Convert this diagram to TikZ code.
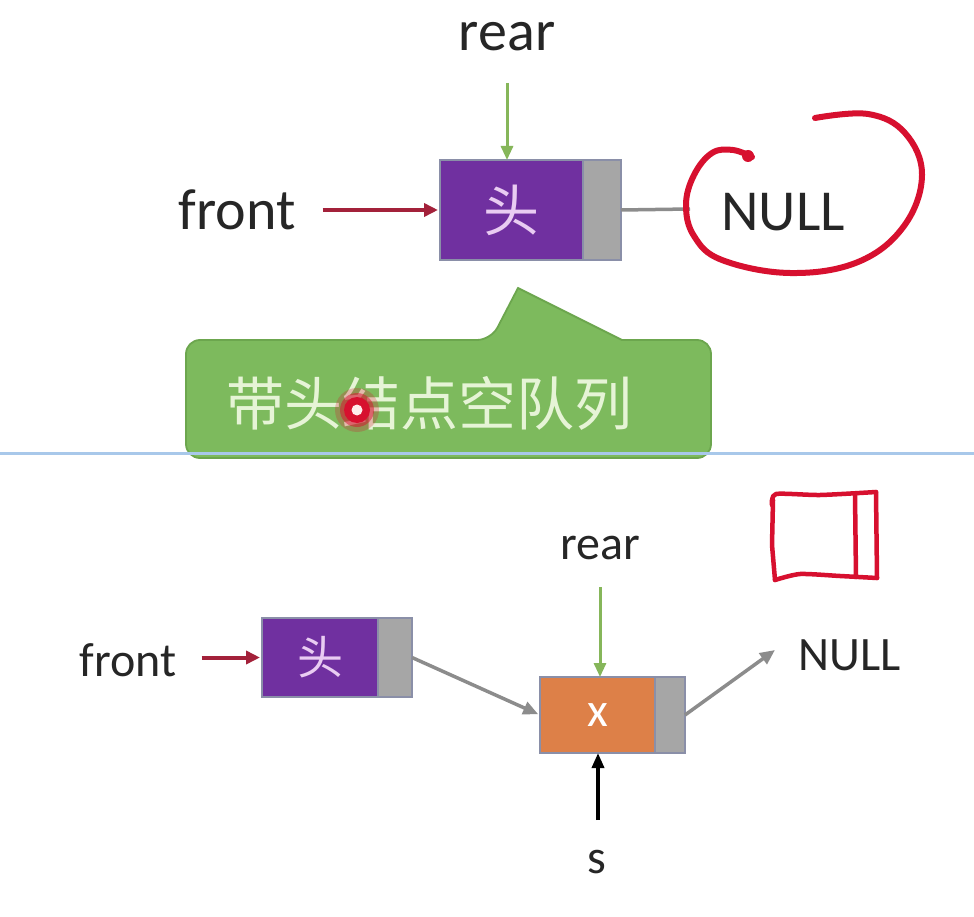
\documentclass[tikz,border=0pt]{standalone}
\usepackage{fontspec}
\setmainfont{Carlito}
\newfontfamily\cjk{Noto Sans CJK SC}
\usetikzlibrary{arrows.meta}
\definecolor{headpurple}{HTML}{7030A0}
\definecolor{ptrgray}{HTML}{A6A6A6}
\definecolor{boxedge}{HTML}{8A8FA8}
\definecolor{nodeorange}{HTML}{DD8048}
\definecolor{ptrgreen}{HTML}{86B65A}
\definecolor{ptrred}{HTML}{A3213A}
\definecolor{linkgray}{HTML}{8C8C8C}
\definecolor{calloutgreen}{HTML}{7DBA5D}
\definecolor{calloutedge}{HTML}{6CA64E}
\definecolor{callouttext}{HTML}{E6F4D6}
\definecolor{headtext}{HTML}{E9CCF2}
\definecolor{handred}{HTML}{D7102F}
\definecolor{divblue}{HTML}{A8C8EA}
\definecolor{labeltext}{HTML}{262626}
\newcommand{\bigtxt}{\fontsize{58}{62}\selectfont}
\newcommand{\midtxt}{\fontsize{48}{52}\selectfont}
\tikzset{
  databox/.style={draw=boxedge, line width=1.8pt, inner sep=0pt, outer sep=0pt},
  ptrbox/.style={draw=boxedge, line width=1.8pt, fill=ptrgray, inner sep=0pt, outer sep=0pt},
  label/.style={text=labeltext, inner sep=0pt},
  redptr/.style={draw=ptrred, line width=4pt, -{Triangle[length=14pt,width=13pt]}},
  greenptr/.style={draw=ptrgreen, line width=3pt, -{Triangle[length=14pt,width=12pt]}},
  grayptr/.style={draw=linkgray, line width=3.5pt, -{Triangle[length=15pt,width=13pt]}},
  blackptr/.style={draw=black, line width=3.5pt, -{Triangle[length=15pt,width=12pt]}},
  handpen/.style={draw=handred, line width=6pt, line cap=round, line join=round},
}
\begin{document}
\begin{tikzpicture}[x=1pt,y=-1pt]
\useasboundingbox[fill=white] (0,0) rectangle (974,917);

% ---------- top: empty queue with head node ----------
\node[label, font=\bigtxt] (r1) at (507,37) {rear};
\node[databox, fill=headpurple, minimum width=143pt, minimum height=100pt,
      text=headtext, font=\cjk\fontsize{56}{60}\selectfont] (h1) at (511.5,210) {头};
\node[ptrbox, minimum width=38pt, minimum height=100pt, anchor=west] (p1) at (h1.east) {};
\node[label, font=\bigtxt] (f1) at (237,210) {front};
\node[label, font=\bigtxt] (n1) at (783,212) {NULL};
\coordinate (r1s) at (507,83);
\coordinate (n1w) at (690,209);

\draw[greenptr] (r1s) -- (r1s |- h1.north);
\draw[redptr, shorten <=27pt, shorten >=2pt] (f1.east |- h1.west) -- (h1.west);
\draw[draw=linkgray, line width=3.5pt] (p1.east) -- (n1w);

% hand-drawn circle round NULL
\draw[handpen] plot[smooth, tension=0.65] coordinates {(752,157) (733,150) (712,153) (694,175) (686,205) (694,236) (722,260) (790,273) (858,262) (904,226) (922,175) (905,133) (868,114) (815,118)};
\fill[handred] (748,156) circle (6pt);

% callout
\draw[fill=calloutgreen, draw=calloutedge, line width=1.8pt]
  (450,458) [rounded corners=14pt] -- (186,458) -- (186,340) -- (491,340)
  [sharp corners] -- (518,288) -- (622,340)
  [rounded corners=14pt] -- (711,340) -- (711,458) -- cycle;
\node[text=callouttext, inner sep=0pt, font=\cjk\fontsize{58}{62}\selectfont] (c1) at (429,403) {带头结点空队列};
% laser pointer dot
\fill[handred, opacity=0.25] (357,410) circle (22pt);
\fill[handred, opacity=0.5] (357,410) circle (17pt);
\fill[handred] (357,410) circle (13pt);
\fill[white!70!pink] (357,410) circle (5.5pt);

% divider between the two screens
\draw[divblue, line width=3pt] (0,453) -- (974,453);

% ---------- bottom: after inserting x ----------
\node[label, font=\midtxt] (r2) at (600,548) {rear};
\node[databox, fill=headpurple, minimum width=116pt, minimum height=79pt,
      text=headtext, font=\cjk\fontsize{46}{50}\selectfont] (h2) at (320,657.5) {头};
\node[ptrbox, minimum width=34pt, minimum height=79pt, anchor=west] (p2) at (h2.east) {};
\node[databox, fill=nodeorange, minimum width=115pt, minimum height=76pt,
      text=white, font=\midtxt] (x1) at (597.5,715) {x};
\node[ptrbox, minimum width=30pt, minimum height=76pt, anchor=west] (p3) at (x1.east) {};
\node[label, font=\midtxt] (f2) at (128,660) {front};
\node[label, font=\midtxt] (n2) at (850,655) {NULL};
\node[label, font=\midtxt] (s1) at (597,862) {s};
\coordinate (r2s) at (600,587);
\coordinate (n2sw) at (775,650);
\coordinate (s1n) at (598,820);

\draw[redptr, shorten <=25pt, shorten >=2pt] (f2.east |- h2.west) -- (h2.west);
\draw[greenptr] (r2s) -- (r2s |- x1.north);
\draw[grayptr, shorten >=2pt] (p2.east) -- (x1.west);
\draw[grayptr] (p3.east) -- (n2sw);
\draw[blackptr] (s1n) -- (s1n |- x1.south);

% hand-drawn box sketch
\draw[handpen, line width=4.5pt] plot[smooth, tension=0.4] coordinates {(772,505) (776,494) (820,495) (876,492)};
\draw[handpen, line width=4.5pt] (773,500) -- (772,545) -- (775,580);
\draw[handpen, line width=4.5pt] plot[smooth, tension=0.4] coordinates {(775,580) (800,574) (840,576) (877,578)};
\draw[handpen, line width=4.5pt] (876,492) -- (877,578);
\draw[handpen, line width=4.5pt] (855,495) -- (856,577);
\end{tikzpicture}
\end{document}
